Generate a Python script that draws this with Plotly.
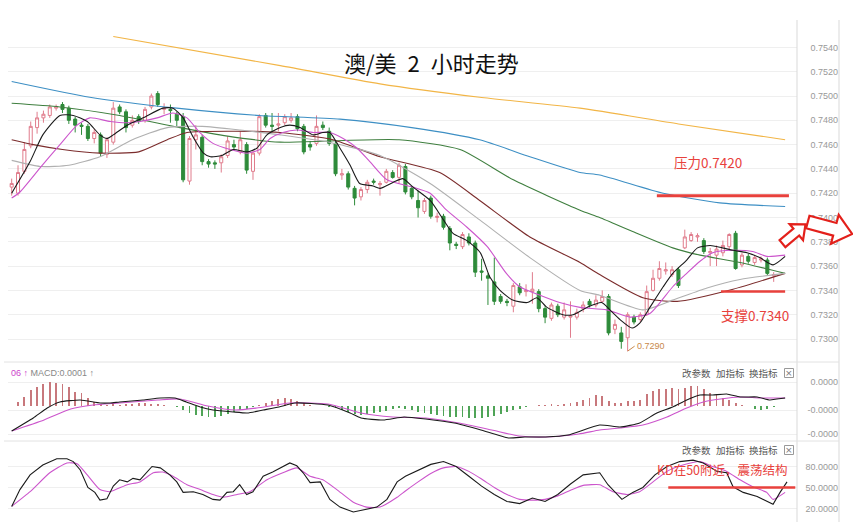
import numpy as np
import plotly.graph_objects as go

W, H = 853, 528

# ---------------- candles (2h AUD/USD) ----------------
open_ = [.7425,.7420,.7438,.7459,.7474,.7482,.7484,.7490,.7493,.7490,.7481,.7476,.7475,.7465,.7468,.7452,.7462,.7491,.7487,.7476,
         .7483,.7480,.7491,.7502,.7489,.7489,.7485,.7483,.7430,.7464,.7466,.7446,.7445,.7445,.7451,.7460,.7454,.7460,.7438,.7453,
         .7484,.7476,.7476,.7478,.7480,.7483,.7475,.7460,.7461,.7476,.7471,.7461,.7435,.7436,.7424,.7417,.7423,.7430,.7427,.7429,
         .7437,.7433,.7442,.7424,.7414,.7405,.7416,.7400,.7401,.7391,.7378,.7376,.7384,.7379,.7356,.7352,.7347,.7335,.7331,.7327,
         .7343,.7339,.7339,.7339,.7325,.7317,.7327,.7318,.7318,.7318,.7325,.7331,.7328,.7331,.7335,.7308,.7305,.7301,.7318,.7316,
         .7320,.7340,.7350,.7356,.7353,.7357,.7375,.7381,.7384,.7381,.7371,.7369,.7371,.7376,.7387,.7361,.7368,.7363,.7365,.7365,
         .7352]
high = [.7432,.7443,.7462,.7479,.7487,.7488,.7493,.7493,.7495,.7492,.7483,.7478,.7477,.7473,.7470,.7466,.7495,.7493,.7489,.7484,
        .7485,.7491,.7502,.7504,.7494,.7493,.7487,.7486,.7467,.7476,.7468,.7448,.7447,.7452,.7467,.7464,.7471,.7462,.7455,.7485,
        .7486,.7486,.7486,.7485,.7486,.7485,.7477,.7463,.7484,.7479,.7474,.7463,.7440,.7438,.7426,.7425,.7431,.7432,.7430,.7440,
        .7439,.7445,.7444,.7426,.7422,.7416,.7418,.7404,.7403,.7393,.7380,.7388,.7387,.7381,.7366,.7354,.7367,.7337,.7333,.7346,
        .7346,.7345,.7355,.7341,.7327,.7330,.7329,.7330,.7331,.7325,.7331,.7333,.7336,.7340,.7337,.7316,.7310,.7322,.7320,.7322,
        .7344,.7357,.7364,.7363,.7360,.7359,.7390,.7388,.7387,.7383,.7375,.7377,.7381,.7387,.7389,.7371,.7370,.7369,.7368,.7367,
        .7355]
low = [.7418,.7418,.7436,.7457,.7469,.7478,.7482,.7488,.7486,.7477,.7470,.7468,.7463,.7461,.7450,.7449,.7460,.7485,.7470,.7474,
       .7477,.7478,.7489,.7491,.7485,.7478,.7475,.7429,.7427,.7456,.7443,.7441,.7440,.7437,.7449,.7455,.7452,.7436,.7431,.7451,
       .7474,.7470,.7471,.7476,.7478,.7471,.7452,.7455,.7459,.7472,.7459,.7434,.7431,.7423,.7410,.7414,.7420,.7427,.7418,.7428,
       .7432,.7428,.7419,.7415,.7400,.7403,.7399,.7396,.7390,.7373,.7374,.7374,.7377,.7351,.7348,.7328,.7328,.7329,.7327,.7322,
       .7336,.7335,.7329,.7322,.7313,.7315,.7318,.7316,.7301,.7316,.7322,.7326,.7326,.7330,.7303,.7304,.7292,.7290,.7312,.7314,
       .7319,.7339,.7348,.7353,.7351,.7342,.7374,.7380,.7380,.7370,.7360,.7360,.7368,.7374,.7357,.7359,.7362,.7361,.7363,.7352,
       .7347]
close = [.7428,.7437,.7456,.7475,.7482,.7485,.7491,.7491,.7489,.7480,.7476,.7475,.7465,.7470,.7453,.7464,.7490,.7487,.7474,.7480,
         .7479,.7489,.7500,.7493,.7490,.7488,.7480,.7431,.7465,.7468,.7446,.7444,.7444,.7450,.7463,.7458,.7464,.7439,.7453,.7483,
         .7476,.7475,.7477,.7483,.7482,.7473,.7454,.7458,.7475,.7474,.7461,.7436,.7436,.7425,.7416,.7423,.7429,.7429,.7428,.7438,
         .7433,.7443,.7421,.7417,.7408,.7414,.7401,.7401,.7392,.7379,.7377,.7386,.7379,.7355,.7355,.7350,.7331,.7331,.7330,.7344,
         .7338,.7340,.7341,.7325,.7318,.7328,.7320,.7324,.7319,.7322,.7328,.7328,.7332,.7335,.7305,.7312,.7298,.7320,.7314,.7320,
         .7339,.7350,.7358,.7357,.7357,.7344,.7384,.7386,.7385,.7372,.7372,.7374,.7377,.7386,.7358,.7369,.7364,.7367,.7366,.7354,
         .7353]
bar_idx = list(range(len(open_)))

# ---------------- moving averages (bar index, value) ----------------
ma5_x = [0,2.9,4.9,7.6,9.7,11.9,13.9,15,16,18.2,20.7,23.8,25.4,27,28.6,30.2,31.3,33.1,34.9,37.1,38.6,40.2,42.3,43.8,45.4,47.5,49,50.1,
         51.7,53.3,54.8,56.9,58,60.1,61.6,63.2,65.9,68,69.5,71.7,73.8,75.3,76.9,78.9,81.2,82.7,84.3,86.8,88.4,90.6,92.9,94.2,95.8,97.7,
         98.9,100.5,102.6,104.1,106.3,108,110,111.9,113.6,115.8,117.8,119.9,121.8]
ma5_y = [.7420,.7446,.7468,.7484,.7484,.7479,.7468,.7465,.7468,.7476,.7482,.7490,.7490,.7482,.7466,.7453,.7450,.7451,.7456,.7454,.7457,
         .7468,.7474,.7476,.7474,.7468,.7470,.7470,.7457,.7443,.7428,.7426,.7424,.7429,.7432,.7425,.7414,.7398,.7387,.7381,.7371,.7351,
         .7340,.7332,.7330,.7334,.7326,.7320,.7320,.7326,.7330,.7324,.7316,.7309,.7313,.7326,.7343,.7354,.7365,.7375,.7377,.7375,.7373,
         .7371,.7367,.7361,.7368]
ma10_x = [0,1.3,4.5,7.6,10.3,12.3,15.5,18.2,20.2,22.9,25.4,27.6,29.6,31.7,34.4,37.1,39.1,40.7,42.7,44.9,47.5,50.1,52.2,54.4,56.4,59.1,
          63.2,65.9,68.5,71.7,74.9,77.9,80,83.2,86.3,89.5,93.7,97.4,100.5,102.1,104.1,106.3,108.4,110.4,113.6,116.7,118.9,121.8]
ma10_y = [.7416,.7421,.7441,.7460,.7476,.7482,.7479,.7478,.7479,.7482,.7486,.7482,.7470,.7461,.7456,.7453,.7456,.7465,.7470,.7472,.7470,
          .7470,.7465,.7457,.7446,.7431,.7425,.7420,.7406,.7392,.7376,.7354,.7343,.7336,.7330,.7326,.7324,.7318,.7321,.7330,.7343,.7354,
          .7364,.7371,.7373,.7372,.7368,.7369]
ma20_x = [0,4.5,9,13.9,19,24.5,30,36,42.3,50,58,65.9,73.7,81.6,89.5,92.6,99.4,104.1,109.5,114.7,121.8]
ma20_y = [.7447,.7442,.7443,.7450,.7464,.7474,.7475,.7472,.7468,.7462,.7451,.7428,.7398,.7367,.7340,.7336,.7324,.7332,.7342,.7349,.7354]
ma30_x = [0,3.4,8,13.9,20,24.5,27.6,35,42.3,50.6,58,67.4,73.7,81.6,89.5,92.6,99.4,104.8,113.6,121.8]
ma30_y = [.7464,.7460,.7456,.7453,.7454,.7464,.7470,.7471,.7470,.7464,.7450,.7437,.7414,.7384,.7363,.7353,.7334,.7331,.7341,.7354]
ma60_x = [0,7.6,17,26.5,34,42.3,50,61,70.6,79,89.5,92.6,98,104.1,108.4,114.7,121.8]
ma60_y = [.7494,.7491,.7484,.7474,.7467,.7462,.7463,.7464,.7456,.7431,.7406,.7400,.7388,.7375,.7369,.7363,.7354]
ma120_x = [0,12.3,26,39,51.7,63,73.7,81.6,89.5,92.6,102.6,111.5,121.8]
ma120_y = [.7512,.7499,.7490,.7484,.7481,.7474,.7464,.7450,.7437,.7435,.7420,.7412,.7409]
ma250_x = [16,42.3,58,73.7,89.5,105,121.8]
ma250_y = [.7549,.7525,.7510,.7499,.7490,.7477,.7464]

# ---------------- MACD (units of 1e-6) ----------------
macd_hist = [0,4,9,16,19,22,24,23,22,19,14,13,8,4,2,1,2,1,2,2,3,3,2,2,1,0,-1,-4,-7,-9,-10,-11,-11,-10,-8,-6,-4,-3,-1,1,
             3,5,7,8,7,5,3,1,0,0,-1,-2,-4,-6,-8,-9,-8,-7,-6,-5,-3,-2,-3,-4,-6,-7,-8,-9,-10,-11,-11,-11,-12,-12,-12,-11,-10,-8,-6,-4,
             -3,-1,0,1,1,2,1,2,3,4,6,8,11,10,5,3,3,5,5,6,12,15,17,17,18,17,18,20,20,17,13,12,8,6,3,1,0,-3,-4,-3,
             -1]
dif_x = [0,3.4,5.6,7.6,10.8,13.9,15.5,17,20.7,23.4,25.7,27.5,29.7,31.7,34.9,37.1,39.6,42.1,44.6,49.8,53.3,55,58.5,61.8,65.2,69.7,
         73.9,78.2,80.8,84.1,87.6,92.6,95.8,98.9,101.6,104.1,106.3,108.4,110.4,112.6,114.7,117.4,119.4,120.5,121.8]
dif_y = [-25,-12,-2,4,6,3,3,4,6,8,8,4,-1,-4,-6,-7,-4,-1,3,1,-7,-12,-14,-11,-13,-17,-24,-32,-31,-31,-29,-19,-21,-17,-7,-1,6,11,11,12,
         9,9,6,7,8]
dea_x = [0,5.1,9.3,12.8,17,23,26.5,30.9,35.2,38.6,43.8,49.8,55,60,65.2,70.4,75.6,79.9,84.1,89.3,92.6,95.8,99.4,103.2,106.3,108.9,
         111.6,114.7,117.8,121.8]
dea_y = [-25,-14,-3,1,3,6,7,0,-4,-2,3,2,-7,-11,-12,-17,-24,-30,-31,-28,-24,-22,-19,-11,-2,4,7,9,8,8]

# ---------------- KD ----------------
k_x = [0,1.3,2.9,4.9,7.1,8.7,9.7,10.8,12,13.1,13.9,15,16,17,18.2,19.1,20.2,22.1,23.4,24.9,26,27,28.6,30.1,31.7,32.8,33.9,34.9,35.9,
       37,38,39.6,41.1,42.7,43.8,44.9,45.9,47,48.6,50.1,51.7,53.8,55.9,57.5,59.1,60.7,62,64,66,68,70,72,74,76,78,80,82,84,86,88,90,
       92.6,93.9,96.1,97.8,99.4,101.3,103.2,105.2,107.3,108.9,111.1,112.6,113.6,115.2,117.4,118.9,119.9,121,122.1]
k_y = [23,47,68,82,91,91,87,75,50,43,32,34,52,61,58,63,61,80,78,68,58,43,44,40,33,32,43,44,54,40,44,66,72,80,85,81,71,57,58,33,22,
       15,19,22,33,58,66,75,83,87,80,66,52,40,30,27,35,30,40,55,68,71,54,33,43,50,68,80,87,89,85,73,71,51,43,37,30,26,43,58]
d_x = [0,2.9,6,8.7,10.3,11.9,13.9,15.5,18.2,20.2,22.3,23.8,25.4,27.6,29.7,31.7,33.3,35.5,37.5,40.2,42.7,44.9,47,49,51.2,53.8,55.9,
       58,60.7,62,64,66,68,70,72,74,76,78,80,82,84,86,88,90,92.6,94.7,96.9,98.9,101,103.2,105.7,108.4,110.4,112.6,114.7,116.7,118.9,
       119.9,121.8]
d_y = [23,44,71,85,84,68,47,44,54,58,71,72,66,54,47,40,36,40,44,61,71,78,66,61,47,29,22,22,36,45,58,70,78,80,73,62,50,40,33,32,
       33,38,46,53,54,44,40,44,58,73,82,87,80,73,61,51,43,33,43]

price_ticks = [0.7300,0.7320,0.7340,0.7360,0.7380,0.7400,0.7420,0.7440,0.7460,0.7480,0.7500,0.7520,0.7540]
macd_ticks = [24e-6, -4e-6, -28e-6]
macd_ticktext = ["0.0000", "-0.0000", "-0.0000"]
kd_ticks = [20, 50, 80]
kd_ticktext = ["20.0000", "50.0000", "80.0000"]
resist_level, support_level, low_level = 0.7418, 0.7339, 0.7290

# ---------------- figure ----------------
def px(x):
    return x / W

def py(y):
    return 1 - y / H

XDOM = [px(8), px(797)]
XRANGE = [-0.58, 123.67]
LINE_W = 1.1

fig = go.Figure()
fig.add_trace(go.Candlestick(
    x=bar_idx, open=open_, high=high, low=low, close=close,
    increasing=dict(line=dict(color="#e07c8c", width=1), fillcolor="#ffffff"),
    decreasing=dict(line=dict(color="#2e8b3a", width=1), fillcolor="#2e8b3a"),
    whiskerwidth=0, xaxis="x", yaxis="y", showlegend=False))

for xs, ys, col in [(ma250_x, ma250_y, "#f2b546"), (ma120_x, ma120_y, "#3d8fc4"), (ma60_x, ma60_y, "#3f7f3f"),
                    (ma30_x, ma30_y, "#7b2c2c"), (ma20_x, ma20_y, "#b0b0b0"), (ma10_x, ma10_y, "#cc55cc"),
                    (ma5_x, ma5_y, "#1a1a1a")]:
    fig.add_trace(go.Scatter(x=xs, y=ys, mode="lines", line=dict(color=col, width=LINE_W, shape="spline", smoothing=0.6),
                             xaxis="x", yaxis="y", showlegend=False, hoverinfo="skip"))

hist_vals = [v * 1e-6 for v in macd_hist]
fig.add_trace(go.Bar(x=bar_idx, y=hist_vals, width=0.14,
                     marker=dict(color=["#c8787c" if v >= 0 else "#4fa457" for v in macd_hist], line=dict(width=0)),
                     xaxis="x2", yaxis="y2", showlegend=False))
fig.add_trace(go.Scatter(x=dea_x, y=[v * 1e-6 for v in dea_y], mode="lines",
                         line=dict(color="#cc55cc", width=LINE_W, shape="spline", smoothing=0.6),
                         xaxis="x2", yaxis="y2", showlegend=False))
fig.add_trace(go.Scatter(x=dif_x, y=[v * 1e-6 for v in dif_y], mode="lines",
                         line=dict(color="#1a1a1a", width=LINE_W, shape="spline", smoothing=0.5),
                         xaxis="x2", yaxis="y2", showlegend=False))
fig.add_trace(go.Scatter(x=d_x, y=d_y, mode="lines", line=dict(color="#cc55cc", width=LINE_W, shape="spline", smoothing=0.5),
                         xaxis="x3", yaxis="y3", showlegend=False))
fig.add_trace(go.Scatter(x=k_x, y=k_y, mode="lines", line=dict(color="#1a1a1a", width=LINE_W),
                         xaxis="x3", yaxis="y3", showlegend=False))

tickfont = dict(family="Liberation Sans, Arial", size=9, color="#999999")
xcommon = dict(domain=XDOM, range=XRANGE, showgrid=False, showticklabels=False, zeroline=False, showline=False,
               ticks="", fixedrange=True)
ycommon = dict(anchor="free", position=px(838), side="left", showline=False, ticks="", zeroline=False,
               gridcolor="#efefef", gridwidth=1, tickfont=tickfont)

fig.update_layout(
    width=W, height=H, margin=dict(l=0, r=0, t=0, b=0), paper_bgcolor="white", plot_bgcolor="white",
    boxgap=0.32, bargap=0, showlegend=False,
    xaxis=dict(**xcommon, anchor="y", rangeslider=dict(visible=False)),
    xaxis2=dict(**xcommon, anchor="y2"),
    xaxis3=dict(**xcommon, anchor="y3"),
    yaxis=dict(**ycommon, domain=[py(358), py(20)], range=[0.7300 - 19 / 12150, 0.7300 + 319 / 12150],
               tickvals=price_ticks, ticktext=[f"{v:.4f}" for v in price_ticks]),
    yaxis2=dict(**ycommon, domain=[py(440), py(362)], range=[-34e-6, 44e-6], tickvals=macd_ticks, ticktext=macd_ticktext),
    yaxis3=dict(**ycommon, domain=[py(522), py(441)], range=[0.7, 116.4], tickvals=kd_ticks, ticktext=kd_ticktext),
)

red = "#e8413c"
cjk = "Noto Sans CJK SC"
ann = []


def ptext(text, x, y, size, color, family=cjk, xanchor="center"):
    return dict(text=text, x=px(x), y=py(y), xref="paper", yref="paper", showarrow=False,
                xanchor=xanchor, yanchor="middle", font=dict(family=family, size=size, color=color))


ann.append(ptext("澳/美\u20022\u2002小时走势", 432, 62, 22, "#111111"))
ann.append(ptext("压力0.7420", 708, 162, 13.5, red))
ann.append(ptext("支撑0.7340", 755, 315, 13.5, red))
ann.append(ptext("KD在50附近，震荡结构", 722, 469, 12.5, red))
ann.append(dict(text="0.7290", x=97, y=low_level, xref="x", yref="y", ax=7, ay=-5, showarrow=True,
                arrowhead=0, arrowwidth=1, arrowcolor="#c8884a", xanchor="left", yanchor="middle",
                font=dict(family="Liberation Sans", size=9, color="#c8884a")))
ann.append(ptext("<span style='color:#cc44cc'>06 ↑</span> MACD:0.0001 ↑", 9, 373, 9, "#888888",
                 family="Liberation Sans", xanchor="left"))
for yy in (373, 450):
    for label, cx in (("改参数", 696), ("加指标", 730), ("换指标", 763)):
        ann.append(ptext(label, cx, yy, 9.5, "#555555"))
    ann.append(ptext("×", 789, yy - 0.5, 9, "#777777", family="DejaVu Sans"))

shapes = []
for yy in (373, 450):
    shapes.append(dict(type="rect", xref="paper", yref="paper", x0=px(784.5), x1=px(793.5), y0=py(yy + 4.5),
                       y1=py(yy - 4.5), line=dict(color="#999999", width=1)))
# frame lines
for xx in (797, 839):
    shapes.append(dict(type="line", xref="paper", yref="paper", x0=px(xx), x1=px(xx), y0=py(20), y1=py(522),
                       line=dict(color="#d9d9d9", width=1)))
for yy in (362, 441):
    shapes.append(dict(type="line", xref="paper", yref="paper", x0=px(4), x1=px(839), y0=py(yy), y1=py(yy),
                       line=dict(color="#e2e2e2", width=1)))
# resistance / support lines
shapes.append(dict(type="line", xref="x", yref="y", x0=101.6, x1=122.4, y0=resist_level, y1=resist_level,
                   line=dict(color=red, width=3)))
shapes.append(dict(type="line", xref="x", yref="y", x0=111.7, x1=121.8, y0=support_level, y1=support_level,
                   line=dict(color=red, width=2.5)))
shapes.append(dict(type="line", xref="x3", yref="y3", x0=103.4, x1=123.4, y0=50, y1=50,
                   line=dict(color=red, width=2.5)))


def arrow(cx, cy, ang, L, sw, hw, hl):
    pts = np.array([(-L / 2, -sw / 2), (L / 2 - hl, -sw / 2), (L / 2 - hl, -hw / 2), (L / 2, 0),
                    (L / 2 - hl, hw / 2), (L / 2 - hl, sw / 2), (-L / 2, sw / 2)])
    a = np.deg2rad(ang)
    R = np.array([[np.cos(a), -np.sin(a)], [np.sin(a), np.cos(a)]])
    p = pts @ R.T + np.array([cx, cy])
    d = "M " + " L ".join(f"{px(x):.5f},{py(y):.5f}" for x, y in p) + " Z"
    return dict(type="path", xref="paper", yref="paper", path=d, line=dict(color="#e3201b", width=2.2),
                fillcolor="white")


shapes.append(arrow(794, 234, -40, 30, 9, 21, 12))
shapes.append(arrow(830, 228, 15, 46, 13, 30, 18))

fig.update_layout(annotations=ann, shapes=shapes)
fig.write_html("out.html")
